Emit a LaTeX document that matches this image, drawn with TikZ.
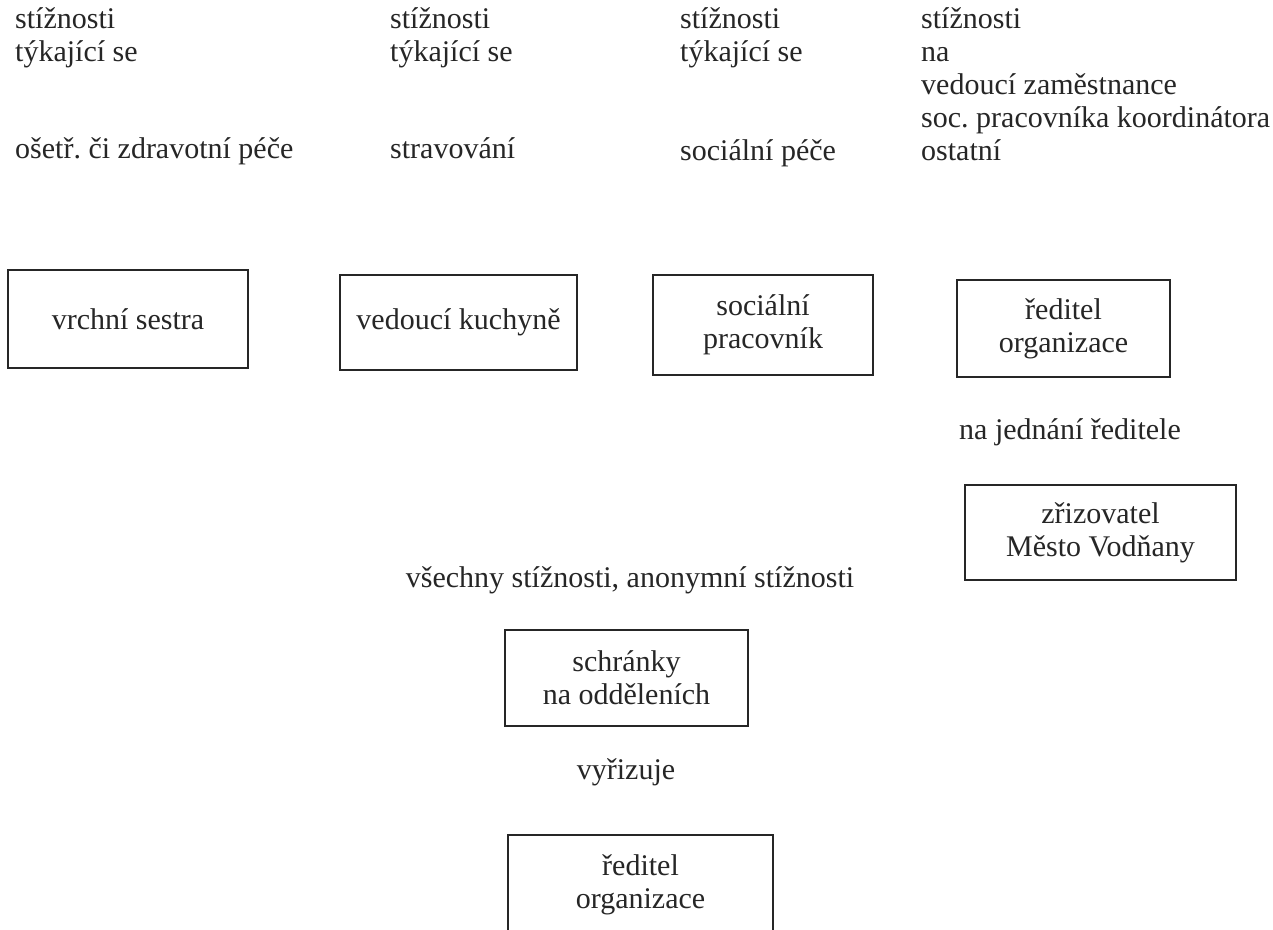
\documentclass[tikz,border=0pt]{standalone}
\usepackage{fontspec}
\setmainfont{Liberation Serif}
\frenchspacing
\begin{document}
\begin{tikzpicture}[x=1pt,y=-1pt,
  txt/.style={font=\fontsize{30}{33}\selectfont, inner sep=0pt, anchor=base west, text=black!85},
  lbl/.style={font=\fontsize{30}{33}\selectfont, inner sep=0pt, text=black!85},
  box/.style={draw=black!85, line width=1.4pt, font=\fontsize{30}{33}\selectfont, align=center, inner sep=0pt, text=black!85}]
\useasboundingbox (0,0) rectangle (1273,929);
\fill[white] (0,0) rectangle (1273,929);
\clip (0,0) rectangle (1273,929);
% top column texts
\node[txt] (c1a) at (15,28) {stížnosti};
\node[txt] (c1b) at (15,61) {týkající se};
\node[txt] (c1c) at (15,158) {ošetř. či zdravotní péče};
\node[txt] (c2a) at (390,28) {stížnosti};
\node[txt] (c2b) at (390,61) {týkající se};
\node[txt] (c2c) at (390,158) {stravování};
\node[txt] (c3a) at (680,28) {stížnosti};
\node[txt] (c3b) at (680,61) {týkající se};
\node[txt] (c3c) at (680,160) {sociální péče};
\node[txt] (c4a) at (921,28) {stížnosti};
\node[txt] (c4b) at (921,61) {na};
\node[txt] (c4c) at (921,94) {vedoucí zaměstnance};
\node[txt] (c4d) at (921,127) {soc. pracovníka koordinátora};
\node[txt] (c4e) at (921,160) {ostatní};
% boxes
\node[box, minimum width=240, minimum height=98] (b1) at (128,319) {vrchní sestra};
\node[box, minimum width=237, minimum height=95] (b2) at (458.5,322.5) {vedoucí kuchyně};
\node[box, minimum width=220, minimum height=100] (b3) at (763,325) {sociální\\pracovník};
\node[box, minimum width=213, minimum height=97] (b4) at (1063.5,328.5) {ředitel\\organizace};
\node[lbl, anchor=west] (l1) at (959,432) {na jednání ředitele};
\node[box, minimum width=271, minimum height=95] (b5) at (1100.5,532.5) {zřizovatel\\Město Vodňany};
\node[lbl] (l2) at (630,580) {všechny stížnosti, anonymní stížnosti};
\node[box, minimum width=243, minimum height=96] (b6) at (626.5,678) {schránky\\na odděleních};
\node[lbl] (l3) at (626,772) {vyřizuje};
\node[box, minimum width=265, minimum height=100] (b7) at (640.5,885) {ředitel\\organizace};
\end{tikzpicture}
\end{document}
